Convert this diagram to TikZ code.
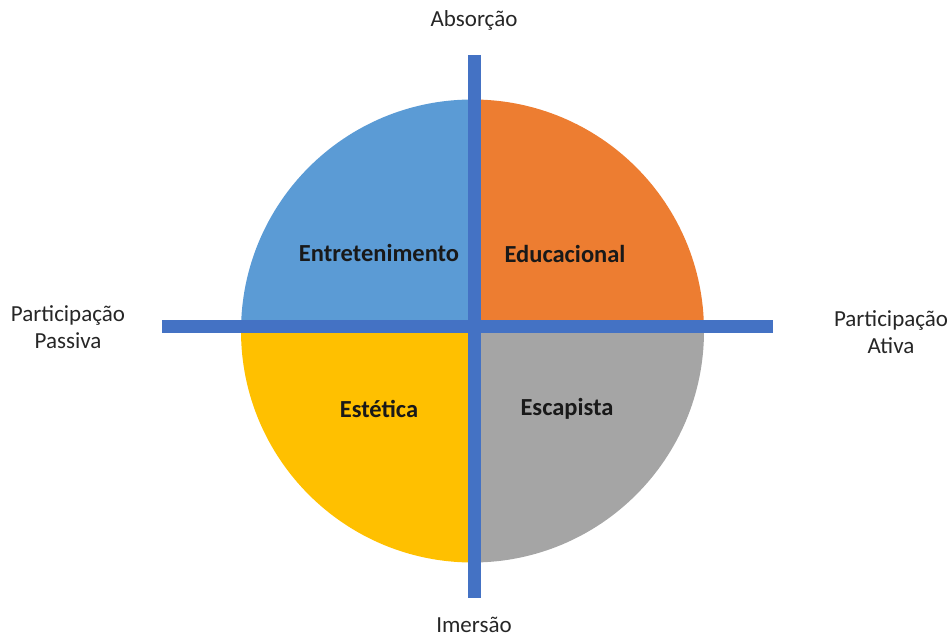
\documentclass[tikz,border=0pt]{standalone}
\usepackage{fontspec}
\setmainfont{Carlito}
\usepackage{tikz}
\usetikzlibrary{positioning}
\definecolor{entblue}{HTML}{5B9BD5}
\definecolor{eduorange}{HTML}{ED7D31}
\definecolor{estyellow}{HTML}{FFC000}
\definecolor{escgray}{HTML}{A5A5A5}
\definecolor{axisblue}{HTML}{4472C4}

\begin{document}
\begin{tikzpicture}[
  x=1pt, y=1pt,
  axis/.style={draw=axisblue, line width=13pt},
  quad/.style={font=\fontsize{24.5}{28}\selectfont\bfseries, text=black!90},
  lbl/.style={font=\fontsize{23}{27}\selectfont, text=black!85, align=center, inner sep=1pt},
]
  \useasboundingbox (0,0) rectangle (952,637);

  % Quadrants of the circle
  \coordinate (c) at (472.5,306);
  \def\rad{231.5}
  \fill[entblue]    (c) -- ++(180:\rad) arc (180:90:\rad) -- cycle;
  \fill[eduorange]  (c) -- ++(90:\rad) arc (90:0:\rad) -- cycle;
  \fill[escgray]    (c) -- ++(0:\rad) arc (0:-90:\rad) -- cycle;
  \fill[estyellow]  (c) -- ++(-90:\rad) arc (-90:-180:\rad) -- cycle;

  % Axes
  \coordinate (top) at (474.5,582);
  \coordinate (bot) at (474.5,39);
  \coordinate (lft) at (162,310.5);
  \coordinate (rgt) at (773,310.5);
  \draw[axis] (lft) -- (rgt);
  \draw[axis] (top) -- (bot);

  % Axis labels
  \node[lbl] (abs) at (474,617) {Absorção};
  \node[lbl] (ime) at (474,12) {Imersão};
  \node[lbl] (pas) at (68,310) {Participação\\Passiva};
  \node[lbl] (ati) at (891,305) {Participação\\Ativa};

  % Quadrant labels
  \node[quad] (ent) at (379,384) {Entretenimento};
  \node[quad] (edu) at (565,383) {Educacional};
  \node[quad] (est) at (379,228) {Estética};
  \node[quad] (esc) at (567,228) {Escapista};
\end{tikzpicture}
\end{document}
